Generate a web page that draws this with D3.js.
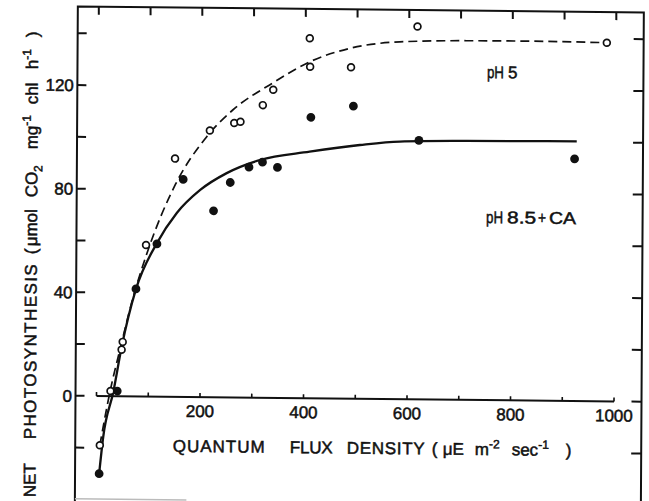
<!DOCTYPE html>
<html>
<head>
<meta charset="utf-8">
<script src="https://cdn.jsdelivr.net/npm/d3@7"></script>
<style>
  body { margin: 0; background: #fff; }
  text { font-family: "Liberation Sans", Arial, sans-serif; fill: #111; stroke: #111; stroke-width: 0.5px; }
</style>
</head>
<body>
<div id="chart"></div>
<script>
// measured points, quantum flux (uE m-2 s-1) vs net photosynthesis
const ph5Flux  = [7, 27, 48, 50, 94, 149, 216, 263, 275, 318, 338, 408, 409, 488, 616, 982];
const ph5Rate  = [-19, 2, 18, 21, 58.5, 92, 103, 106, 106.5, 113, 119, 139, 128, 128, 144, 138.5];
const ph85Flux = [6, 40, 75, 115, 165, 224, 256, 292, 318, 347, 411, 493, 620, 921];
const ph85Rate = [-30, 2, 41.5, 59, 84, 72, 83, 89, 91, 89, 108.5, 113, 100, 93.5];

// fitted curves as drawn in the figure
const ph5CurveFlux  = [7, 26, 46, 68, 98, 150, 210, 260, 337, 409, 486, 582, 711, 839, 982];
const ph5CurveRate  = [-19, 1.7, 19, 37, 56.6, 82, 100.6, 111, 121.6, 130, 135.3, 138, 138.7, 138.8, 138.5];
const ph85CurveFlux = [6, 13.5, 32.5, 48, 75, 115, 153, 198, 249, 313, 409, 506, 583, 712, 925];
const ph85CurveRate = [-30, -15.7, 1.7, 19, 41.4, 59.3, 71, 80, 86.6, 91.8, 95.2, 98, 99.5, 100, 100.3];

const xTicks = [0, 100, 200, 300, 400, 500, 600, 700, 800, 900, 1000];
const xLabels = [200, 400, 600, 800, 1000];
const yTicks = [-20, 0, 20, 40, 60, 80, 100, 120, 140];
const yLabels = [0, 40, 80, 120];

const W = 649, H = 501;
const frame = { left: 75.5, right: 641.5, top: 6.7 };

const x = d3.scaleLinear().domain([0, 1000]).range([96.5, 614]);
const y = d3.scaleLinear().domain([0, 140]).range([396, 33.5]);

const svg = d3.select("#chart").append("svg")
  .attr("width", W).attr("height", H);

// the scanned figure is slightly skewed
const g = svg.append("g")
  .attr("transform", `translate(96.5,396) matrix(1,0.0105,-0.006,1,0,0) translate(-96.5,-396)`);

// frame (bottom edge is cut off in the scan)
g.append("path")
  .attr("d", `M${frame.left},512 V${frame.top} H${frame.right} V512`)
  .attr("fill", "none").attr("stroke", "#111").attr("stroke-width", 2);
g.append("line")
  .attr("x1", frame.left).attr("x2", 187).attr("y1", 499).attr("y2", 499)
  .attr("stroke", "#bbb").attr("stroke-width", 1.5);

// frame ticks
yTicks.forEach(v => {
  g.append("line").attr("x1", frame.left).attr("x2", frame.left + 9)
    .attr("y1", y(v)).attr("y2", y(v)).attr("stroke", "#111").attr("stroke-width", 2);
  g.append("line").attr("x1", frame.right).attr("x2", frame.right - 10)
    .attr("y1", y(v)).attr("y2", y(v)).attr("stroke", "#111").attr("stroke-width", 2);
});
xTicks.forEach(v => {
  g.append("line").attr("x1", x(v)).attr("x2", x(v))
    .attr("y1", frame.top).attr("y2", frame.top + 8).attr("stroke", "#111").attr("stroke-width", 2);
});

// x axis drawn along zero
g.append("line").attr("x1", x(0)).attr("x2", x(1000))
  .attr("y1", y(0)).attr("y2", y(0)).attr("stroke", "#111").attr("stroke-width", 2);
xTicks.forEach(v => {
  g.append("line").attr("x1", x(v)).attr("x2", x(v))
    .attr("y1", y(0)).attr("y2", y(0) - 4).attr("stroke", "#111").attr("stroke-width", 1.6);
});

g.selectAll(".xlab").data(xLabels).enter().append("text")
  .attr("x", d => x(d)).attr("y", y(0) + 20)
  .attr("text-anchor", "middle").style("font-size", "17px")
  .text(d => d);

g.selectAll(".ylab").data(yLabels).enter().append("text")
  .attr("x", 72).attr("y", d => y(d)).attr("dy", "0.36em")
  .attr("text-anchor", "end").style("font-size", "17px")
  .text(d => d);

// axis titles
const xt = g.append("text").attr("y", 451).style("font-size", "17px");
xt.append("tspan").attr("x", 173).attr("textLength", 92).text("QUANTUM");
xt.append("tspan").attr("x", 290).attr("textLength", 43).text("FLUX");
xt.append("tspan").attr("x", 347).attr("textLength", 78).text("DENSITY");
xt.append("tspan").attr("x", 432).text("(");
xt.append("tspan").attr("x", 443).text("\u03bcE");
xt.append("tspan").attr("x", 475).text("m");
xt.append("tspan").attr("dy", -7).style("font-size", "12px").text("-2");
xt.append("tspan").attr("x", 512).attr("dy", 7).text("sec");
xt.append("tspan").attr("dy", -7).style("font-size", "12px").text("-1");
xt.append("tspan").attr("x", 566).attr("dy", 7).text(")");

const yt = g.append("text").attr("transform", "translate(36,0) rotate(-90)").style("font-size", "17px");
yt.append("tspan").attr("x", -498).text("NET");
yt.append("tspan").attr("x", -440).attr("textLength", 175).text("PHOTOSYNTHESIS");
yt.append("tspan").attr("x", -255).text("(");
yt.append("tspan").attr("x", -247).text("\u03bcmol");
yt.append("tspan").attr("x", -198).text("CO");
yt.append("tspan").attr("dy", 5).style("font-size", "12px").text("2");
yt.append("tspan").attr("x", -150).attr("dy", -5).text("mg");
yt.append("tspan").attr("dy", -7).style("font-size", "12px").text("-1");
yt.append("tspan").attr("x", -105).attr("dy", 7).text("chl");
yt.append("tspan").attr("x", -70).text("h");
yt.append("tspan").attr("dy", -7).style("font-size", "12px").text("-1");
yt.append("tspan").attr("x", -38).attr("dy", 7).text(")");

// curves
const line = d3.line().x(d => x(d[0])).y(d => y(d[1])).curve(d3.curveMonotoneX);
g.append("path")
  .datum(ph5CurveFlux.map((f, i) => [f, ph5CurveRate[i]]))
  .attr("d", line).attr("fill", "none").attr("stroke", "#111")
  .attr("stroke-width", 1.7).attr("stroke-dasharray", "9,5");
g.append("path")
  .datum(ph85CurveFlux.map((f, i) => [f, ph85CurveRate[i]]))
  .attr("d", line).attr("fill", "none").attr("stroke", "#111")
  .attr("stroke-width", 2.3);

// points
g.selectAll(".open").data(ph5Flux).enter().append("circle")
  .attr("cx", d => x(d)).attr("cy", (d, i) => y(ph5Rate[i]))
  .attr("r", 3.4).attr("fill", "#fff").attr("stroke", "#111").attr("stroke-width", 1.7);
g.selectAll(".filled").data(ph85Flux).enter().append("circle")
  .attr("cx", d => x(d)).attr("cy", (d, i) => y(ph85Rate[i]))
  .attr("r", 4.4).attr("fill", "#111");

// series labels, pieces squeezed to the narrow lettering of the scan
function label(txt, x0, y0, len) {
  const t = g.append("text").attr("x", x0).attr("y", y0).style("font-size", "17px").text(txt);
  if (len) t.attr("textLength", len).attr("lengthAdjust", "spacingAndGlyphs");
}
label("pH", 485, 74, 17);
label("5", 506, 74);
label("pH", 485, 219, 17);
label("8.5", 506, 219, 29);
label("+", 537, 219, 8);
label("CA", 548, 219, 27);
</script>
</body>
</html>
